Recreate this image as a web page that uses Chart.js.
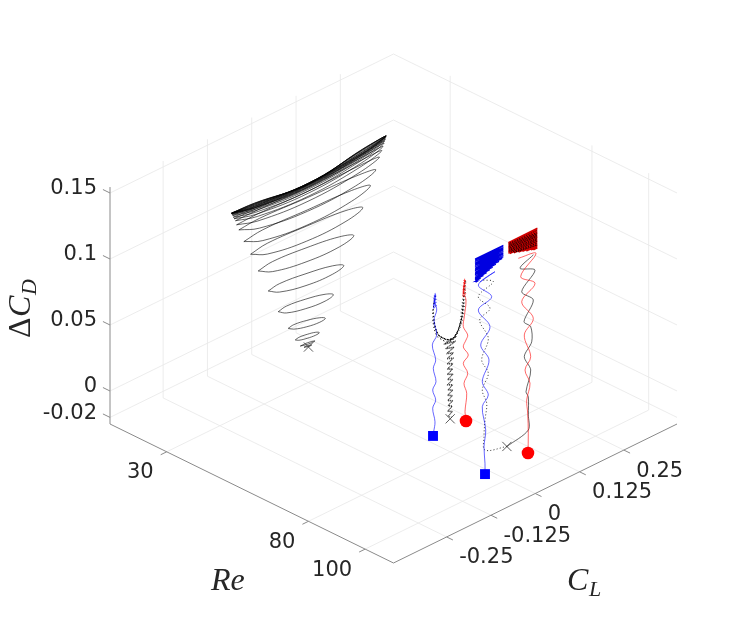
<!DOCTYPE html>
<html><head><meta charset="utf-8">
<style>html,body{margin:0;padding:0;background:#fff}canvas{display:block}</style>
<script src="https://cdn.jsdelivr.net/npm/chart.js@4"></script>
</head><body><canvas id="c" width="747" height="634"></canvas>
<script>
// ---- axis ranges and ticks
const reRange=[10,110], clRange=[-0.4,0.4], cdRange=[-0.025,0.1545];
const reTicks=[30,80,100];
const clTicks=[-0.25,-0.125,0,0.125,0.25];
const cdTicks=[-0.02,0,0.05,0.1,0.15];
const reTickLabels=['30','80','100'];
const clTickLabels=['-0.25','-0.125','0','0.125','0.25'];
const cdTickLabels=['-0.02','0','0.05','0.1','0.15'];

// ---- Re = 30 trajectory: one row per cycle, left tip - lower side - right tip - upper side - left tip
const cl30=[
-.0126,-.0017,.0092,-.0017,-.0126,null,
-.023,-.0023,.0185,-.0023,-.023,null,
-.0372,-.027,-.0033,.0205,.0307,.0205,-.0033,-.027,-.0372,null,
-.057,-.0413,-.0047,.032,.0477,.032,-.0047,-.0413,-.057,null,
-.0853,-.062,-.0075,.047,.0703,.047,-.0075,-.062,-.0853,null,
-.1135,-.0815,-.0069,.0677,.0997,.0677,-.0069,-.0815,-.1135,null,
-.1418,-.1013,-.0069,.0875,.128,.0875,-.0069,-.1013,-.1418,null,
-.1633,-.1158,-.005,.1059,.1534,.1059,-.005,-.1158,-.1633,null,
-.1823,-.1287,-.0037,.1213,.1749,.1213,-.0037,-.1287,-.1823,null,
-.1964,-.1384,-.0031,.1322,.1902,.1322,-.0031,-.1384,-.1964,null,
-.2029,-.1424,-.0013,.1399,.2004,.1399,-.0013,-.1424,-.2029,null,
-.206,-.144,.0006,.1451,.2071,.1451,.0006,-.144,-.206,null,
-.21,-.1469,.0003,.1474,.2105,.1474,.0003,-.1469,-.21,null,
-.2125,-.149,.0005,.149,.2135,.149,.0005,-.149,-.2125,null,
-.214,-.15,.0008,.151,.2155,.151,.0008,-.15,-.214,null,
-.2155,-.151,.0008,.152,.217,.152,.0008,-.151,-.2155,null,
-.2165,-.151,.0008,.153,.218,.153,.0008,-.151,-.2165,null,
-.2168,-.152,.001,.153,.2186,.153,.001,-.152,-.2168,null,
-.217,-.152,.001,.153,.2193,.153,.001,-.152,-.217,null,
-.217,-.152,.001,.153,.2193,.153,.001,-.152,-.217,null,
-.217,-.152,.001,.153,.2193,.153,.001,-.152,-.217,null,
-.217,-.152,.001,.153,.2193,.153,.001,-.152,-.217];
const cd30=[
.0032,.0022,.002,.003,.0032,null,
.0055,.0041,.0039,.0053,.0055,null,
.012,.0104,.0088,.008,.0086,.0102,.0118,.0126,.012,null,
.0234,.0207,.0177,.0163,.0172,.0197,.0225,.0241,.0234,null,
.0397,.0357,.0318,.0303,.0321,.0355,.039,.0409,.0397,null,
.0591,.0541,.0492,.0479,.0503,.0543,.0582,.0605,.0591,null,
.078,.0722,.0671,.0661,.0693,.0737,.0777,.0798,.078,null,
.0935,.0874,.0826,.083,.0871,.0912,.094,.0956,.0935,null,
.1056,.0993,.0946,.0961,.101,.1043,.106,.1075,.1056,null,
.1163,.11,.1049,.1062,.1109,.1136,.1153,.1174,.1163,null,
.121,.116,.1123,.1148,.1192,.1202,.1199,.1214,.121,null,
.1245,.1196,.116,.1188,.1233,.1236,.1228,.1244,.1245,null,
.1265,.1217,.1183,.1214,.126,.1256,.1243,.1259,.1265,null,
.128,.1234,.1199,.1234,.128,.127,.1251,.127,.128,null,
.1295,.1248,.1213,.1248,.1295,.128,.1257,.128,.1295,null,
.1305,.1259,.1222,.1259,.1305,.1285,.1258,.1285,.1305,null,
.1312,.1268,.123,.1268,.1315,.1295,.1258,.1292,.1312,null,
.1314,.1272,.1234,.1274,.1322,.1304,.1258,.1298,.1314,null,
.1317,.1274,.1238,.1278,.1328,.131,.1258,.13,.1317,null,
.1317,.1278,.1244,.1282,.1328,.1312,.1254,.1304,.1317,null,
.1317,.1284,.1248,.1288,.1328,.1314,.1252,.1306,.1317,null,
.1317,.1292,.125,.1296,.1328,.1316,.1252,.1308,.1317];

// ---- Re = 80 trajectories
const cl80Blue=[-.0485,-.0466,-.0429,-.0494,-.0409,-.0494,-.0401,-.0477,-.0409,-.0505,-.0381,-.0457,-.0381,-.0429,-.0457,-.0409,
-.047,-.039,-.048,-.039,-.047,-.039,-.046,-.04,-.046,-.041,-.044,-.042];
const cd80Blue=[-.0066,-.0036,.0034,.0145,.0196,.0283,.0334,.0445,.0499,.0626,.0685,.0808,.0874,.0934,.0973,.0992,
.09,.0912,.0925,.0935,.0948,.0958,.097,.098,.099,.0998,.1003,.1005];
const cl80Red=[.0446,.0418,.0466,.0389,.0494,.037,.0511,.037,.0446,.0494,.037,.0398,.0446,.037,.0418,
.036,.044,.036,.044,.036,.044,.037,.044,.037,.043,.038,.042,.04];
const cd80Red=[-.0075,-.0001,.0132,.0217,.028,.0372,.0416,.0495,.0538,.057,.0649,.0721,.0841,.0914,.0996,
.088,.0893,.0905,.0918,.093,.0943,.0955,.0968,.098,.099,.0998,.1003,.1006];
const cl80Column=[.005,-.006,.006,-.007,.006,-.006,.007,-.007,.006,-.007,.007,-.006,.007,-.008,.007,-.007,.008,-.008,.007,-.008,.008,-.008,.009,-.009,.009,-.01,.011,-.012,.014,-.016,.018,
-.018,.015,-.013,.011,-.01,.009,-.008,.009,-.008,.008,-.008,.007,-.008,.008,-.007,.007,-.008,.007,-.006,.007,-.007,.006,-.007,.007,-.006,.006,-.007,.006,-.005];
const cd80Column=[.0005,.0025,.0045,.0065,.0085,.0105,.0125,.0145,.0165,.0185,.0205,.0225,.0245,.0265,.0285,.0305,.0325,.0345,.0365,.0385,.0405,.0425,.0445,.0465,.0485,.0505,.0525,.0545,.0565,.0585,.06,
.059,.057,.055,.053,.051,.049,.047,.045,.043,.041,.039,.037,.035,.033,.031,.029,.027,.025,.023,.021,.019,.017,.015,.013,.011,.009,.007,.005,.003];
const cl80Arms=[.011,-.01,-.02,-.01,0,.01,.022,.01,0,-.015,-.031,-.015,0,.015,.028,.033,.022,.008,-.008,-.0195,-.0308,-.0401,-.0308,-.0195,-.005,.0087,.0229,.0324,.037,
.0324,.0229,.0087,-.005,-.0195,-.0308,-.0401,-.0457,-.0401,-.0308,-.0195,-.005,.0087,.0229,.0324,.037,.0398,.037,.0324,.0229,.0087,-.005,-.0195,-.0308,-.0401,-.0457,-.0477,-.0449,
-.0477,-.0457,-.0401,-.0308,-.0195,-.005,.0087,.0229,.0324,.037,.0398,.0418,.0398,.037,.0324,.0229,.0087,-.005,-.0195,-.0308,-.0401,-.0457,-.0477,-.0449,-.043];
const cd80Arms=[.06,.0612,.064,.0612,.06,.0605,.064,.0606,.06,.0625,.067,.0622,.06,.0612,.0685,.073,.064,.0598,.0607,.0636,.0667,.0726,.0669,.0638,.0606,.0599,.0643,.072,.0827,
.0721,.0644,.06,.0607,.0637,.0668,.0727,.0808,.0727,.0669,.0638,.0606,.0599,.0643,.072,.0828,.0948,.0828,.0721,.0644,.06,.0607,.0637,.0668,.0727,.0809,.0887,.0959,
.0888,.0809,.0727,.0669,.0638,.0606,.0599,.0643,.072,.0828,.0949,.0996,.0949,.0828,.0721,.0644,.06,.0607,.0637,.0668,.0727,.0809,.0888,.096,.0985];
const cl80ArmsWide=[-.041,-.047,-.05,-.048,-.043,-.034,-.023,-.008,.009,.026,.036,.041,.043,.044,.04,.034,.024,.007,-.01,-.025,-.037,-.045,-.05];
const cd80ArmsWide=[.0985,.0905,.0885,.0805,.0722,.0665,.0628,.0592,.0588,.0642,.0722,.0832,.0952,.0992,.0952,.0832,.065,.059,.0596,.0636,.0672,.0738,.0822];

// ---- Re = 100 trajectories
const cl100Blue=[-.0618,-.0618,-.0646,-.0598,-.0694,-.0525,-.0694,-.0505,-.0739,-.0477,-.0807,-.0429,-.0807,-.0336,-.0759];
const cd100Blue=[-.0127,-.0045,.0084,.0205,.0394,.046,.0583,.0723,.0867,.0971,.1141,.1192,.133,.1369,.1347];
const cl100BlueBand=[-.088,-.082,-.09,-.074,-.09,-.066,-.09,-.057,-.09,-.048,-.09,-.04,-.09,-.031,-.09,-.022,-.09,-.013,-.09,-.01,-.09,-.01,-.09,-.01,-.09,-.01,-.09,-.01,-.09,-.01,-.09,-.01,-.09,-.01,-.09,-.01,-.09,-.01];
const cd100BlueBand=[.136,.1362,.137,.1372,.138,.1382,.139,.1392,.14,.1402,.141,.1412,.142,.1422,.143,.1432,.144,.1442,.145,.1452,.146,.1462,.147,.1472,.148,.1482,.149,.1492,.15,.1502,.151,.1512,.152,.1522,.153,.1532,.154,.1538];
const cl100Red=[.0595,.0604,.0587,.0559,.0652,.0511,.0672,.0491,.0745,.0418,.0793,.0389,.0821,.0322];
const cd100Red=[-.0127,.0021,.0175,.028,.0394,.0513,.0592,.0781,.0874,.1042,.1133,.1236,.1356,.1384];
const cl100RedBand=[.075,.086,.068,.086,.055,.086,.044,.086,.033,.086,.02,.086,.008,.086,.004,.086,.004,.086,.004,.086,.004,.086,.004,.086,.004,.086,.004,.086,.004,.086,.004,.086];
const cd100RedBand=[.139,.1392,.14,.1402,.141,.1412,.142,.1422,.143,.1432,.144,.1442,.145,.1452,.146,.1462,.147,.1472,.148,.1482,.149,.1492,.15,.1502,.151,.1512,.152,.1522,.153,.1532,.154,.1542];
const cl100BlackBand=[.03,.085,.02,.085,.012,.085,.008,.085,.006,.085,.006,.085,.006,.085,.006,.085,.006,.085,.006,.085];
const cd100BlackBand=[.1437,.1415,.1445,.1428,.1458,.1442,.1468,.1455,.1478,.1465,.1488,.1478,.1498,.1488,.1508,.1498,.1518,.1508,.153,.1526];
const cl100BlackSolid=[0,.0604,.0605,.0604,.0539,.0672,.0491,.07,.0672,.0483,.0745,.0418,.0793,.037,.0745];
const cd100BlackSolid=[.0001,.0046,.016,.0298,.0345,.0492,.0617,.0702,.082,.0883,.1013,.1118,.1233,.1302,.1354];
const cl100BlackDotted=[0,-.0618,-.0646,-.0618,-.057,-.0694,-.0525,-.0711,-.0525,-.0767,-.0477,-.0807,-.0384,-.0711];
const cd100BlackDotted=[.0001,.0055,.016,.0283,.0403,.052,.0624,.075,.0889,.106,.1111,.1242,.13,.1356];

// ---- start / end markers: Re, CL, dCD
const crossRe=[30,80,100], crossCl=[0,0,0], crossCd=[.0017,0,.0001];
const squareRe=[80,100], squareCl=[-.0485,-.0618], squareCd=[-.0066,-.0127];
const circleRe=[80,100], circleCl=[.0446,.0595], circleCd=[-.0075,-.0127];

// ---- 3-D view
function project(re,cl,cd){
  if(cl===null) return {x:NaN,y:NaN};
  const u=(re-reRange[0])/(reRange[1]-reRange[0]), v=(cl-clRange[0])/(clRange[1]-clRange[0]);
  return {x:110+283.5*(u+v), y:424+139*(u-v)-(cd-cdRange[0])*1320};
}
const datasets=[];
function add(points,style){
  datasets.push(Object.assign({data:points,showLine:true,pointRadius:0,tension:0,borderWidth:.6,borderColor:'#000',clip:false,order:-datasets.length,fill:false},style));
}
function curve(re,cl,cd,style){ add(cl.map((c,i)=>project(re,c,cd[i])),style); }

const GRID={borderColor:'#e8e8e8',borderWidth:.85};
const AXIS={borderColor:'#8a8a8a',borderWidth:1};
const [r0,r1]=reRange,[c0,c1]=clRange,[d0,d1]=cdRange;
// walls and floor grid
cdTicks.forEach(d=>{add([project(r0,c0,d),project(r0,c1,d)],GRID);add([project(r0,c1,d),project(r1,c1,d)],GRID);});
clTicks.forEach(c=>{add([project(r0,c,d0),project(r0,c,d1)],GRID);add([project(r0,c,d0),project(r1,c,d0)],GRID);});
reTicks.forEach(r=>{add([project(r,c1,d0),project(r,c1,d1)],GRID);add([project(r,c0,d0),project(r,c1,d0)],GRID);});
// axes and tick marks
add([project(r0,c0,d0),project(r0,c0,d1)],AXIS);
add([project(r0,c0,d0),project(r1,c0,d0)],AXIS);
add([project(r1,c0,d0),project(r1,c1,d0)],AXIS);
cdTicks.forEach(d=>add([project(r0,c0,d),project(r0-2.5,c0,d)],AXIS));
reTicks.forEach(r=>add([project(r,c0,d0),project(r,c0-.017,d0)],AXIS));
clTicks.forEach(c=>add([project(r1,c,d0),project(r1+2.2,c,d0)],AXIS));

// trajectories
curve(30,cl30,cd30,{tension:.4,borderWidth:.6});
curve(80,cl80Column,cd80Column,{borderWidth:.7,borderDash:[1.2,.8]});
curve(80,cl80Arms,cd80Arms,{tension:.3,borderWidth:.7,borderDash:[.9,2.4]});
curve(80,cl80ArmsWide,cd80ArmsWide,{tension:.3,borderWidth:.8,borderDash:[.9,2.6]});
curve(80,cl80Blue,cd80Blue,{tension:.35,borderColor:'#0000ff'});
curve(80,cl80Red,cd80Red,{tension:.35,borderColor:'#ff0000'});
curve(100,cl100BlackDotted,cd100BlackDotted,{tension:.35,borderWidth:.8,borderDash:[1,2.2]});
curve(100,cl100BlackSolid,cd100BlackSolid,{tension:.3,borderWidth:.6});
curve(100,cl100Blue,cd100Blue,{tension:.35,borderColor:'#0000ff'});
curve(100,cl100Red,cd100Red,{tension:.35,borderColor:'#ff0000'});
curve(100,cl100BlueBand,cd100BlueBand,{borderColor:'#0000e0',borderWidth:1.05});
curve(100,cl100RedBand,cd100RedBand,{borderColor:'#d00000',borderWidth:1.2});
curve(100,cl100BlackBand,cd100BlackBand,{borderWidth:.7,borderDash:[1.2,1.4]});
// markers
add(crossRe.map((r,i)=>project(r,crossCl[i],crossCd[i])),{showLine:false,pointStyle:'crossRot',pointRadius:6.5,pointBorderWidth:.8,pointBorderColor:'#333',pointBackgroundColor:'#333'});
add(squareRe.map((r,i)=>project(r,squareCl[i],squareCd[i])),{showLine:false,pointStyle:'rect',pointRadius:7,pointBorderWidth:0,pointBackgroundColor:'#0000ff',pointBorderColor:'#0000ff'});
add(circleRe.map((r,i)=>project(r,circleCl[i],circleCd[i])),{showLine:false,pointStyle:'circle',pointRadius:6.3,pointBorderWidth:0,pointBackgroundColor:'#ff0000',pointBorderColor:'#ff0000'});

const labelsPlugin={id:'labels3d',afterDatasetsDraw(chart){
  const g=chart.ctx,sx=chart.scales.x,sy=chart.scales.y;
  const at=p=>({x:sx.getPixelForValue(p.x),y:sy.getPixelForValue(p.y)});
  g.save();
  g.fillStyle='#262626';g.font='21px "DejaVu Sans"';g.textBaseline='middle';
  g.textAlign='right';
  cdTicks.forEach((d,i)=>{const p=at(project(r0,c0,d));g.fillText(cdTickLabels[i],p.x-13,p.y-4);});
  reTicks.forEach((r,i)=>{const p=at(project(r,c0,d0));g.fillText(reTickLabels[i],p.x-13,p.y+21);});
  g.textAlign='left';
  clTicks.forEach((c,i)=>{const p=at(project(r1,c,d0));g.fillText(clTickLabels[i],p.x+12.5,p.y+21);});
  // axis titles
  g.fillStyle='#262626';g.textBaseline='alphabetic';
  g.font='italic 32px "Liberation Serif"';
  g.fillText('Re',211,590);
  g.fillText('C',567,590);
  g.font='italic 22px "Liberation Serif"';
  g.fillText('L',589,596);
  g.translate(30,338);g.rotate(-Math.PI/2);
  g.font='32px "Liberation Serif"';g.fillText('\u0394',0,0);
  g.font='italic 32px "Liberation Serif"';g.fillText('C',21,0);
  g.font='italic 22px "Liberation Serif"';g.fillText('D',43,6);
  g.restore();
}};

new Chart(document.getElementById('c').getContext('2d'),{
  type:'scatter',
  data:{datasets},
  plugins:[labelsPlugin],
  options:{responsive:false,animation:false,devicePixelRatio:1,
    layout:{padding:0,autoPadding:false},
    plugins:{legend:{display:false},tooltip:{enabled:false},title:{display:false}},
    scales:{x:{type:'linear',min:0,max:747,display:false},y:{type:'linear',min:0,max:634,reverse:true,display:false}}}
});
</script></body></html>
